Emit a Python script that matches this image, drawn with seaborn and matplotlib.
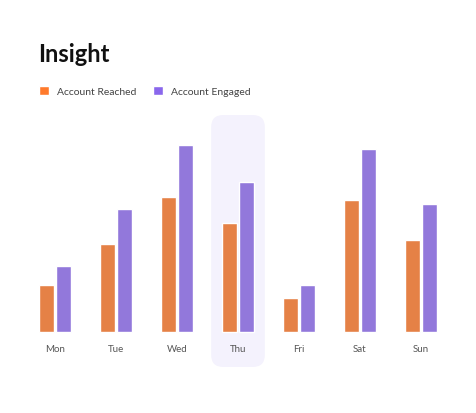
import matplotlib
matplotlib.use("Agg")
import matplotlib.pyplot as plt
import seaborn as sns
import pandas as pd
from matplotlib.patches import FancyBboxPatch, Patch

days = ["Mon", "Tue", "Wed", "Thu", "Fri", "Sat", "Sun"]
reached = [47, 88, 135, 109, 34, 132, 92]
engaged = [66, 123, 187, 150, 47, 183, 128]
series = ["Account Reached", "Account Engaged"]
colors = ["#FF7A2C", "#8A67EC"]
highlight = "Thu"

df = pd.DataFrame({
    "day": days * 2,
    "value": reached + engaged,
    "series": [series[0]] * len(days) + [series[1]] * len(days),
})

sns.set_theme(style="white")
plt.rcParams["font.family"] = ["Lato", "DejaVu Sans"]

fig = plt.figure(figsize=(4.76, 4.14), dpi=100)
ax = fig.add_axes([24.5 / 476, 46 / 414, 427 / 476, 252 / 414])

hi = days.index(highlight)
ax.add_patch(FancyBboxPatch((hi - 0.44, -35), 0.88, 252,
                            boxstyle="round,pad=0,rounding_size=0.2",
                            mutation_aspect=60, facecolor="#F4F2FD",
                            edgecolor="none", zorder=0))

sns.barplot(data=df, x="day", y="value", hue="series", palette=colors,
            width=0.56, gap=0.12, ax=ax, zorder=2, legend=False)

ax.set_xlim(-0.5, len(days) - 0.5)
ax.set_ylim(-35, 217)
for i, d in enumerate(days):
    ax.text(i, -17, d, ha="center", va="center", fontsize=7, color="#555555")
ax.set_xticks([])
ax.set_yticks([])
ax.set_xlabel("")
ax.set_ylabel("")
sns.despine(ax=ax, left=True, bottom=True)

fig.text(38 / 476, 1 - 55 / 414, "Insight", fontsize=17, fontweight="bold",
         color="#111111", va="center", ha="left")
handles = [Patch(facecolor=c, label=s) for c, s in zip(colors, series)]
fig.legend(handles=handles, loc="center left",
           bbox_to_anchor=(30 / 476, 1 - 92 / 414), ncol=2, frameon=False,
           fontsize=7.5, handlelength=0.9, handleheight=0.9,
           handletextpad=0.8, columnspacing=1.6, labelcolor="#444444")

fig.savefig("out.png", dpi=100, facecolor="white")
